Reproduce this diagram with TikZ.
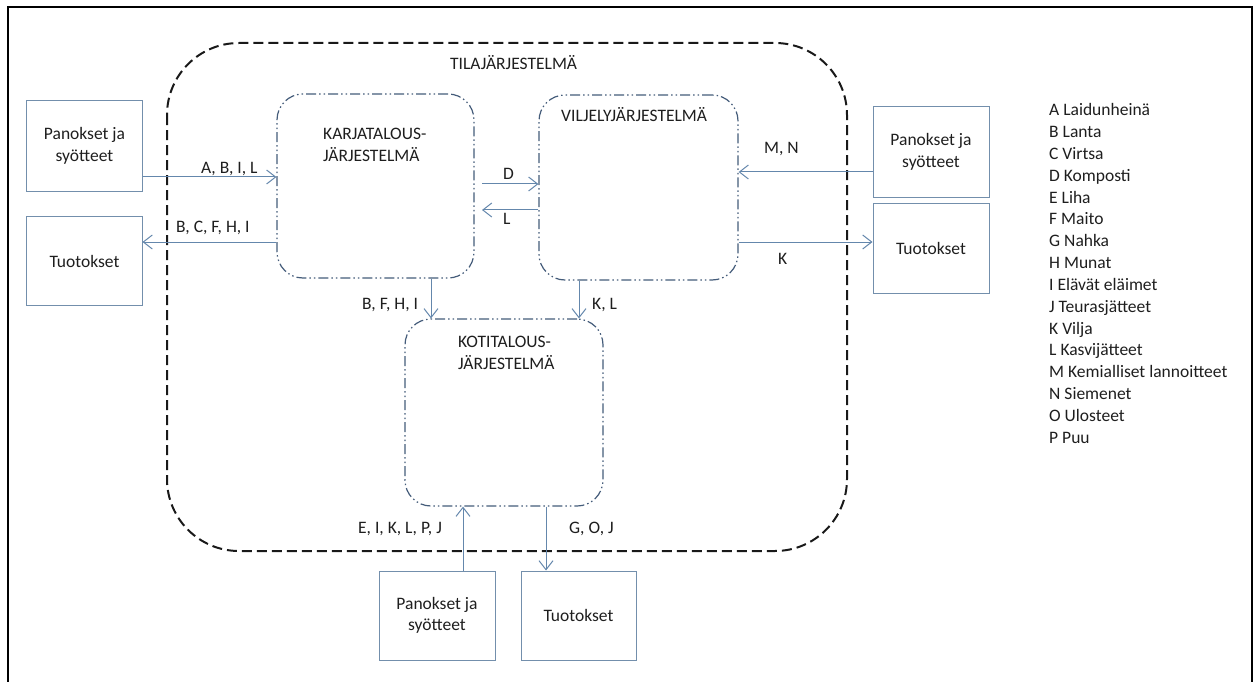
\documentclass[tikz,border=0pt]{standalone}
\usepackage{fontspec}
\setmainfont{Carlito}
\usetikzlibrary{arrows.meta}
\definecolor{boxcol}{RGB}{115,143,172}
\definecolor{arrcol}{RGB}{100,135,172}
\definecolor{syscol}{RGB}{68,92,122}
\definecolor{txt}{RGB}{30,30,30}
\tikzset{
  iobox/.style={draw=boxcol, line width=1bp, rectangle, inner sep=0pt, align=center, text=txt},
  sysbox/.style={draw=syscol, line width=1.2bp, rectangle, inner sep=0pt, rounded corners=26bp,
    dash pattern=on 10bp off 3bp on 1.5bp off 3bp on 1.5bp off 3bp},
  arr/.style={draw=arrcol, line width=1bp, -{Straight Barb[length=9bp,width=14bp]}},
  lbl/.style={anchor=base west, inner sep=0pt, text=txt},
}
\begin{document}
\begin{tikzpicture}[x=1bp,y=-1bp,font=\fontsize{17.5bp}{21.5bp}\selectfont]
\useasboundingbox (0,0) rectangle (1255,682);
% outer frame
\draw[line width=2.5bp, black] (8,690) -- (8,7) -- (1252,7) -- (1252,690);
% farm system
\draw[line width=2bp, black!90, dash pattern=on 10bp off 5bp, rounded corners=72bp] (167,43) rectangle (847,551);
\node[lbl] (tila) at (450,69.5) {TILAJÄRJESTELMÄ};
% subsystems
\node[sysbox, minimum width=197bp, minimum height=184bp] (karja) at (375.5,186) {};
\node[sysbox, minimum width=199bp, minimum height=185bp] (vilj) at (638.5,187.5) {};
\node[sysbox, minimum width=198bp, minimum height=187bp] (koti) at (504,412.5) {};
\node[lbl] (karjat1) at (323,140) {KARJATALOUS-};
\node[lbl] (karjat2) at (323,161.5) {JÄRJESTELMÄ};
\node[lbl] (viljt) at (561,121.5) {VILJELYJÄRJESTELMÄ};
\node[lbl] (kotit1) at (458,347) {KOTITALOUS-};
\node[lbl] (kotit2) at (458,369) {JÄRJESTELMÄ};
% input/output boxes
\node[iobox, minimum width=115bp, minimum height=90bp] (inL) at (84.5,146) {Panokset ja\\syötteet};
\node[iobox, minimum width=115bp, minimum height=88bp] (outL) at (84.5,261) {Tuotokset};
\node[iobox, minimum width=116bp, minimum height=90bp] (inR) at (931,152) {Panokset ja\\syötteet};
\node[iobox, minimum width=116bp, minimum height=89bp] (outR) at (931,248.5) {Tuotokset};
\node[iobox, minimum width=116bp, minimum height=89bp] (inB) at (437,615.5) {Panokset ja\\syötteet};
\node[iobox, minimum width=115bp, minimum height=89bp] (outB) at (578.5,615.5) {Tuotokset};
% connectors
\draw[arr] (inL.east |- 0,177) -- (karja.west |- 0,177);
\node[lbl] at (201,174) {A, B, I, L};
\draw[arr] (karja.west |- 0,242) -- (outL.east |- 0,242);
\node[lbl] at (176,233) {B, C, F, H, I};
\draw[arr] (482,184) -- (vilj.west |- 0,184);
\node[lbl] at (503,180) {D};
\draw[arr] (vilj.west |- 0,210) -- (482,210);
\node[lbl] at (503,225) {L};
\draw[arr] (inR.west |- 0,172) -- (vilj.east |- 0,172);
\node[lbl] at (764,154) {M, N};
\draw[arr] (vilj.east |- 0,242) -- (outR.west |- 0,242);
\node[lbl] at (778,264) {K};
\draw[arr] (karja.south -| 431,0) -- (koti.north -| 431,0);
\node[lbl] at (362,309) {B, F, H, I};
\draw[arr] (vilj.south -| 579,0) -- (koti.north -| 579,0);
\node[lbl] at (592,309) {K, L};
\draw[arr] (inB.north -| 463,0) -- (koti.south -| 463,0);
\node[lbl] at (358,533) {E, I, K, L, P, J};
\draw[arr] (koti.south -| 546,0) -- (outB.north -| 546,0);
\node[lbl] at (569,533) {G, O, J};
% legend
\foreach \t [count=\i from 0] in {A Laidunheinä, B Lanta, C Virtsa, D Komposti, E Liha, F Maito, G Nahka, H Munat, I Elävät eläimet, J Teurasjätteet, K Vilja, L Kasvijätteet, M Kemialliset lannoitteet, N Siemenet, O Ulosteet, P Puu}
  \node[lbl] (leg\i) at (1049,{116+21.8*\i}) {\t};
\end{tikzpicture}
\end{document}
